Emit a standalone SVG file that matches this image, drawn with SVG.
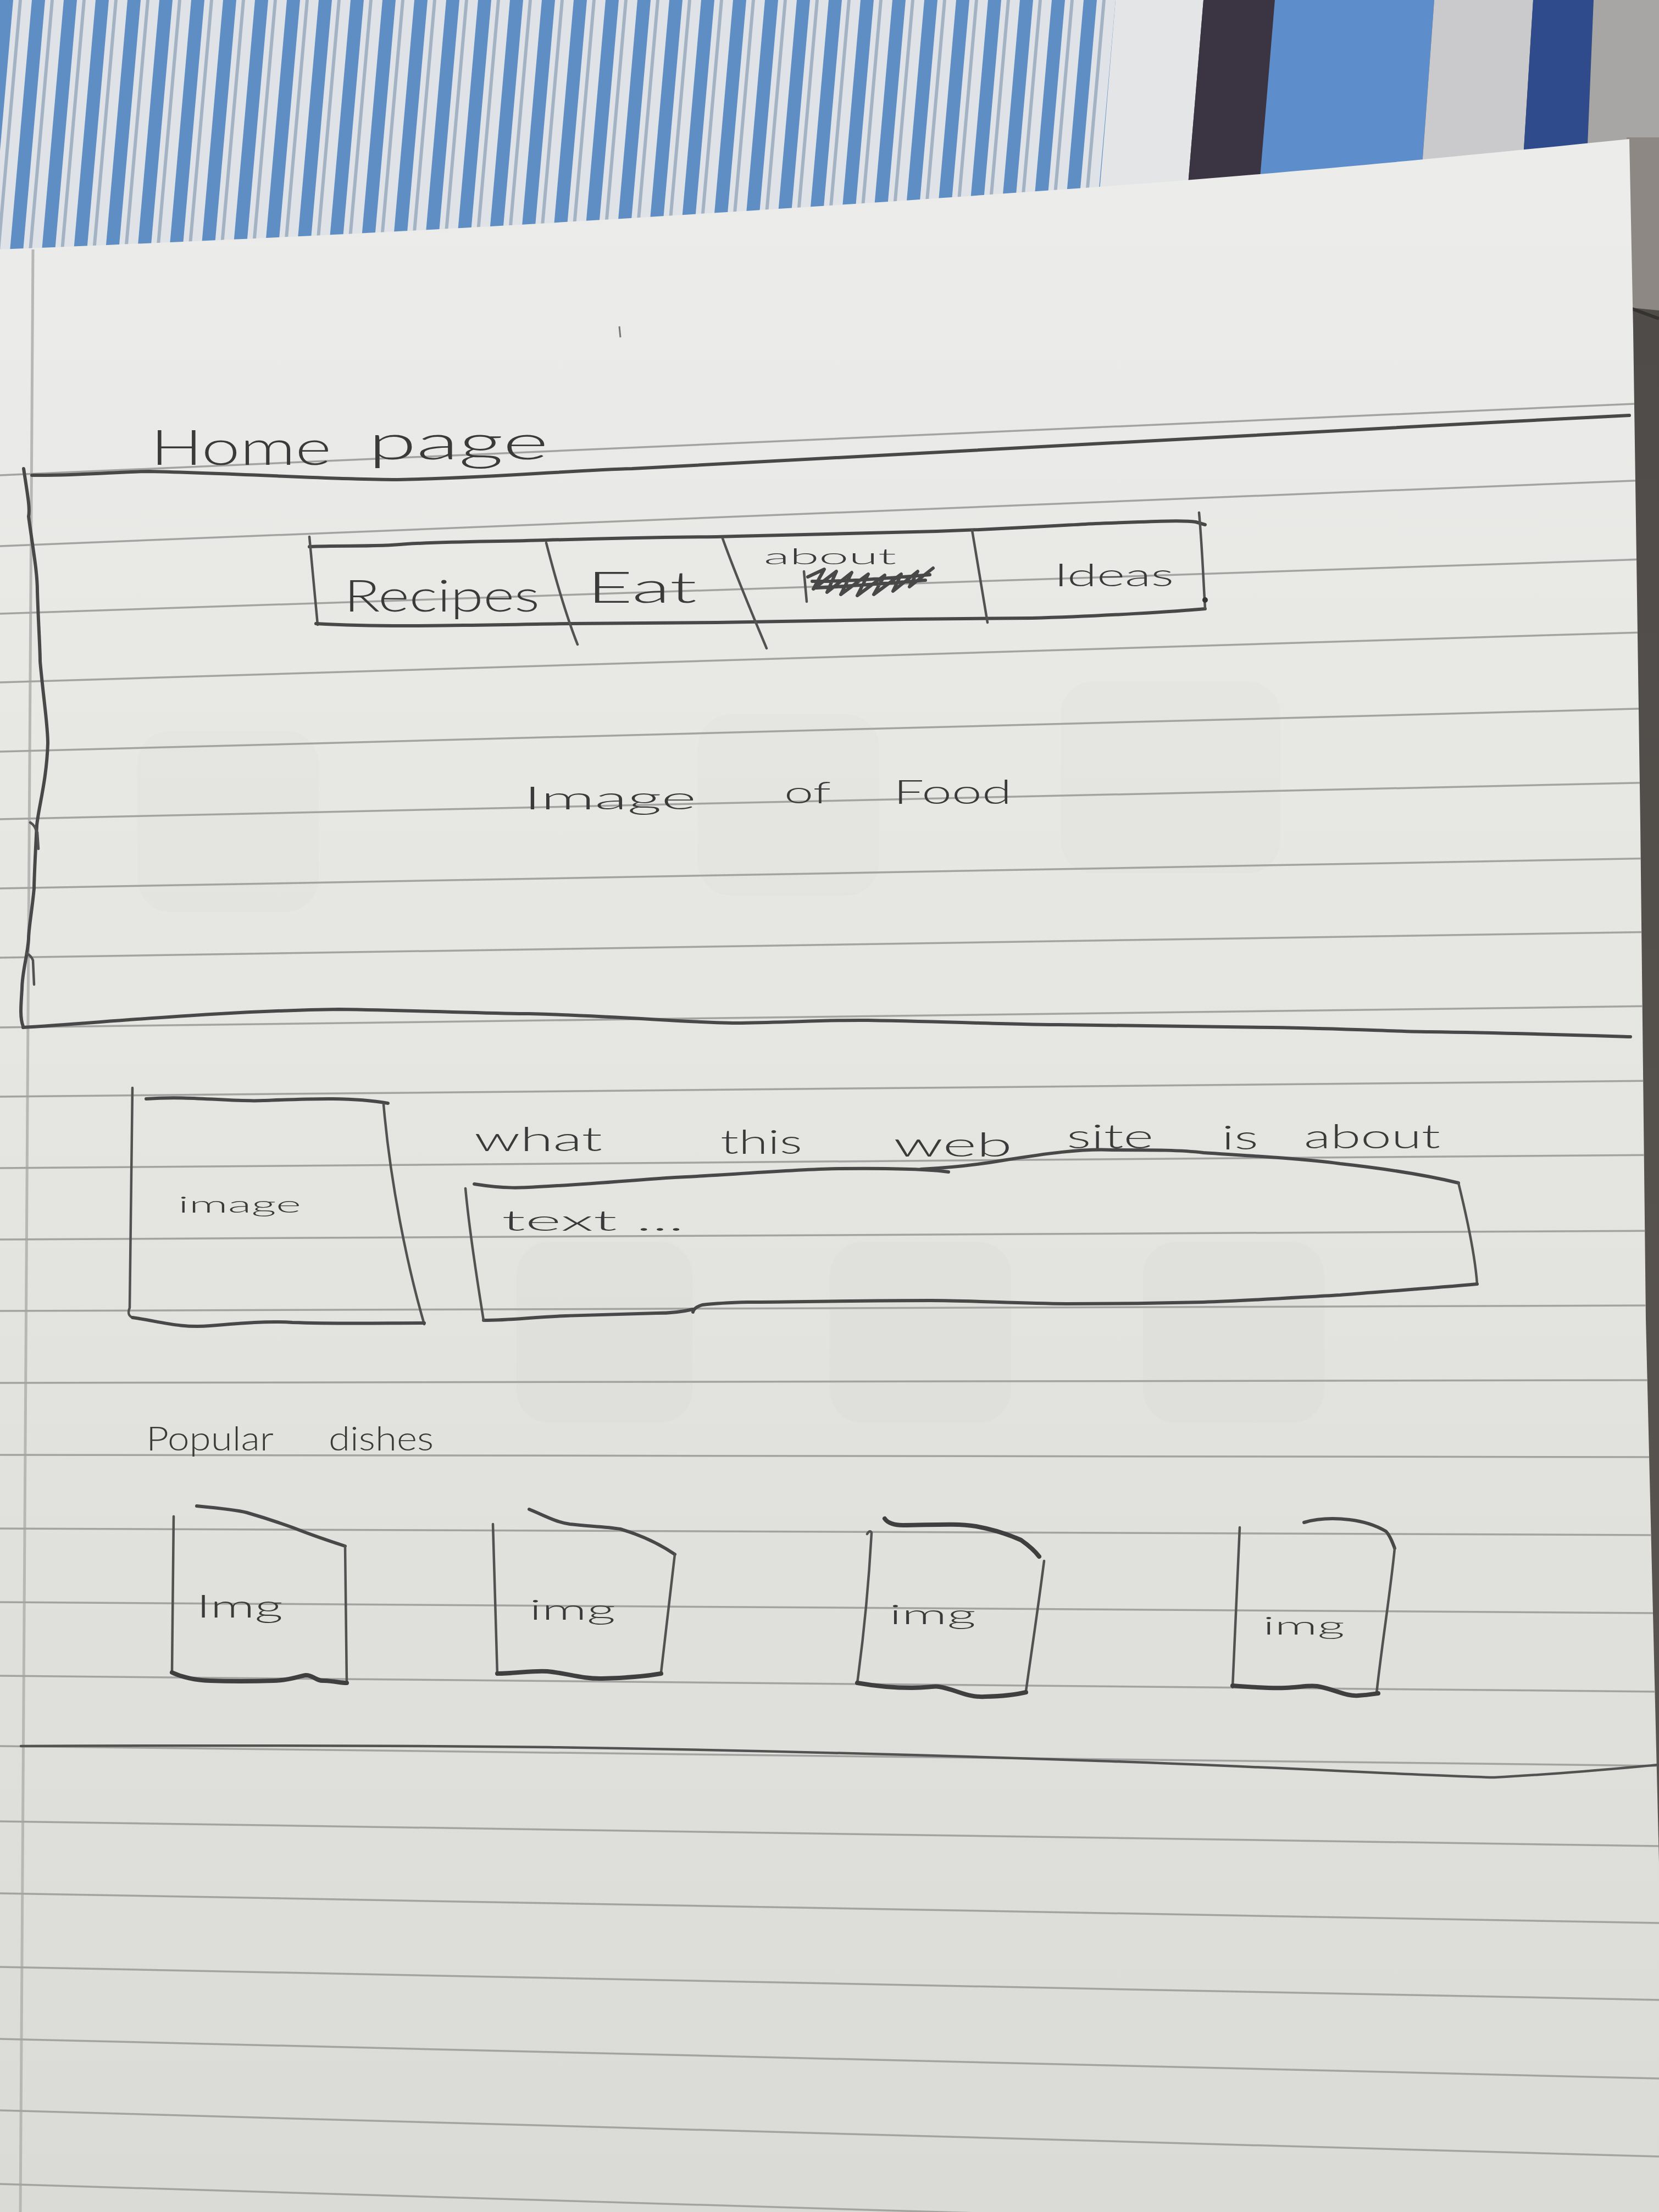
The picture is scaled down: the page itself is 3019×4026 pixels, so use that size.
<svg xmlns="http://www.w3.org/2000/svg" width="3019" height="4026" viewBox="0 0 3019 4026">
  <defs>
    <style>
      .pen { fill: none; stroke: #484848; stroke-width: 6; stroke-linecap: round; stroke-linejoin: round; }
      .pen-thin { fill: none; stroke: #525252; stroke-width: 4.5; stroke-linecap: round; stroke-linejoin: round; }
      .pen-bold { fill: none; stroke: #3f3f3f; stroke-width: 8; stroke-linecap: round; stroke-linejoin: round; }
      .rule { fill: none; stroke: #a3a3a1; stroke-width: 3.5; }
      .hand { font-family: "Lato", "Liberation Sans", "DejaVu Sans", sans-serif; font-weight: 300; fill: #3a3a3a; }
      .ghost { fill: #000; opacity: 0.012; }
    </style>
    <pattern id="fabric" patternUnits="userSpaceOnUse" width="58" height="500" patternTransform="skewX(-5)">
      <rect width="58" height="500" fill="#dfe2e6"/>
      <rect x="0" width="24" height="500" fill="#5f8ec5"/>
      <rect x="34" width="6" height="500" fill="#a4b3c4"/>
    </pattern>
    <linearGradient id="paperShade" x1="0" y1="0" x2="0" y2="1">
      <stop offset="0" stop-color="#ececea"/>
      <stop offset="0.45" stop-color="#e5e5e2"/>
      <stop offset="1" stop-color="#dadad6"/>
    </linearGradient>
    <linearGradient id="sideShade" x1="0" y1="0" x2="0" y2="1">
      <stop offset="0" stop-color="#4c4a48"/>
      <stop offset="1" stop-color="#5d5751"/>
    </linearGradient>
    <clipPath id="paperClip">
      <path d="M0,454 C400,438 700,423 963,408 C1400,382 1700,362 2041,337 C2400,310 2700,280 2965,253 L2972,600 L2985,1500 L2995,2400 L3019,3390 L3019,4026 L0,4026 Z"/>
    </clipPath>
  </defs>

  <!-- surroundings: striped fabric and the dark desk to the right -->
  <g id="background">
    <rect width="3019" height="4026" fill="url(#sideShade)"/>
    <rect x="0" y="0" width="2040" height="480" fill="url(#fabric)"/>
    <polygon points="2030,0 2190,0 2150,480 1990,480" fill="#e4e5e7"/>
    <polygon points="2190,0 2320,0 2280,480 2150,480" fill="#3b3443"/>
    <polygon points="2320,0 2610,0 2575,480 2280,480" fill="#5d8dcb"/>
    <polygon points="2610,0 2790,0 2760,480 2575,480" fill="#cacacc"/>
    <polygon points="2790,0 2900,0 2880,480 2760,480" fill="#2f4b8b"/>
    <polygon points="2900,0 3019,0 3019,480 2880,480" fill="#a8a6a4"/>
    <polygon points="2960,250 3019,250 3019,565 2968,560" fill="#8d8883"/>
    <line x1="2970" y1="562" x2="3019" y2="580" stroke="#35332f" stroke-width="6"/>
  </g>

  <!-- sheet of lined paper -->
  <g id="paper">
    <path d="M0,454 C400,438 700,423 963,408 C1400,382 1700,362 2041,337 C2400,310 2700,280 2965,253 L2972,600 L2985,1500 L2995,2400 L3019,3390 L3019,4026 L0,4026 Z" fill="url(#paperShade)"/>
    <g clip-path="url(#paperClip)">
      <!-- faint show-through from the other side of the sheet -->
      <rect class="ghost" x="250" y="1330" width="330" height="330" rx="60"/>
      <rect class="ghost" x="1270" y="1300" width="330" height="330" rx="60"/>
      <rect class="ghost" x="1930" y="1240" width="400" height="350" rx="60"/>
      <rect class="ghost" x="940" y="2260" width="320" height="330" rx="60"/>
      <rect class="ghost" x="1510" y="2260" width="330" height="330" rx="60"/>
      <rect class="ghost" x="2080" y="2260" width="330" height="330" rx="60"/>
      <line x1="60" y1="454" x2="37" y2="4026" stroke="#b7b7b5" stroke-width="5"/>
      <g id="rules">
        <line class="rule" x1="0" y1="865" x2="3019" y2="733"/>
        <line class="rule" x1="0" y1="994" x2="3019" y2="873"/>
        <line class="rule" x1="0" y1="1117" x2="3019" y2="1017"/>
        <line class="rule" x1="0" y1="1242" x2="3019" y2="1150"/>
        <line class="rule" x1="0" y1="1368" x2="3019" y2="1289"/>
        <line class="rule" x1="0" y1="1491" x2="3019" y2="1424"/>
        <line class="rule" x1="0" y1="1617" x2="3019" y2="1562"/>
        <line class="rule" x1="0" y1="1743" x2="3019" y2="1696"/>
        <line class="rule" x1="0" y1="1870" x2="3019" y2="1831"/>
        <line class="rule" x1="0" y1="1996" x2="3019" y2="1967"/>
        <line class="rule" x1="0" y1="2126" x2="3019" y2="2102"/>
        <line class="rule" x1="0" y1="2256" x2="3019" y2="2240"/>
        <line class="rule" x1="0" y1="2386" x2="3019" y2="2376"/>
        <line class="rule" x1="0" y1="2517" x2="3019" y2="2512"/>
        <line class="rule" x1="0" y1="2648" x2="3019" y2="2652"/>
        <line class="rule" x1="0" y1="2782" x2="3019" y2="2794"/>
        <line class="rule" x1="0" y1="2916" x2="3019" y2="2936"/>
        <line class="rule" x1="0" y1="3050" x2="3019" y2="3079"/>
        <line class="rule" x1="0" y1="3178" x2="3019" y2="3214"/>
        <line class="rule" x1="0" y1="3315" x2="3019" y2="3360"/>
        <line class="rule" x1="0" y1="3446" x2="3019" y2="3500"/>
        <line class="rule" x1="0" y1="3580" x2="3019" y2="3640"/>
        <line class="rule" x1="0" y1="3711" x2="3019" y2="3783"/>
        <line class="rule" x1="0" y1="3841" x2="3019" y2="3925"/>
        <line class="rule" x1="0" y1="3975" x2="3019" y2="4065"/>
      </g>
    </g>
    <line x1="1127" y1="594" x2="1129" y2="614" stroke="#777" stroke-width="3"/>
  </g>

  <!-- page title -->
  <g id="title">
    <text class="hand" x="274" y="846" font-size="88" textLength="329" lengthAdjust="spacingAndGlyphs">Home</text>
    <text class="hand" x="670" y="836" font-size="88" textLength="328" lengthAdjust="spacingAndGlyphs">page</text>
  </g>

  <!-- hero area: header frame with the nav bar and food image -->
  <g id="hero">
    <path class="pen" d="M58,865 C150,866 220,858 271,858 C450,862 600,873 724,873 C900,870 1050,855 1150,853 C1600,830 2300,790 2965,756"/>
    <path class="pen" d="M43,853 C50,900 55,925 52,940 C60,1000 68,1040 68,1077 C70,1140 73,1180 73,1204 C80,1280 87,1320 87,1353 C85,1420 70,1470 67,1502 C64,1560 62,1600 62,1617 C58,1660 52,1690 52,1709 C50,1740 40,1770 40,1800 C38,1830 36,1852 42,1868"/>
    <path class="pen-thin" d="M55,1497 C60,1500 64,1505 66,1512 M68,1515 L70,1545"/>
    <path class="pen-thin" d="M48,1735 C54,1738 58,1742 60,1748 L62,1792"/>
    <path class="pen" d="M42,1870 C200,1860 400,1840 617,1837 C800,1840 900,1845 963,1845 C1150,1850 1250,1862 1349,1862 C1450,1860 1520,1856 1580,1857 C1750,1860 1850,1865 1927,1865 C2100,1868 2250,1870 2312,1870 C2450,1872 2550,1878 2601,1878 C2750,1880 2870,1884 2967,1887"/>
  </g>

  <g id="nav">
    <path class="pen" d="M563,995 C620,992 680,996 740,990 C830,985 900,986 994,983 C1100,980 1200,978 1304,977 C1450,973 1600,970 1705,967 C1850,962 1950,955 1993,953 C2080,950 2150,946 2176,950 L2193,955"/>
    <path class="pen-thin" d="M563,977 L578,1137"/>
    <path class="pen" d="M575,1135 C700,1142 800,1138 844,1138 C950,1137 1000,1135 1040,1135 C1150,1134 1250,1133 1304,1133 C1450,1130 1550,1128 1648,1127 C1750,1126 1820,1126 1878,1125 C2000,1122 2150,1112 2193,1108"/>
    <path class="pen-thin" d="M2182,933 C2188,1000 2190,1060 2193,1107"/>
    <circle cx="2193" cy="1092" r="5" fill="#333"/>
    <path class="pen-thin" d="M994,988 C1010,1050 1030,1120 1051,1173"/>
    <path class="pen-thin" d="M1315,980 C1340,1050 1370,1120 1395,1180"/>
    <path class="pen-thin" d="M1769,965 C1780,1030 1790,1090 1797,1133"/>
    <text class="hand" x="626" y="1113" font-size="80" textLength="356" lengthAdjust="spacingAndGlyphs">Recipes</text>
    <text class="hand" x="1068" y="1097" font-size="78" textLength="200" lengthAdjust="spacingAndGlyphs">Eat</text>
    <text class="hand" x="1390" y="1027" font-size="40" textLength="241" lengthAdjust="spacingAndGlyphs">about</text>
    <!-- crossed-out word -->
    <path class="pen-thin" d="M1463,1040 L1468,1095"/>
    <path class="pen" stroke="#2f2f2f" d="M1470,1050 L1500,1036 L1480,1072 L1522,1040 L1505,1078 L1550,1042 L1530,1082 L1580,1045 L1560,1084 L1610,1047 L1590,1082 L1640,1045 L1625,1076 L1670,1040 L1655,1068 L1698,1034 M1478,1058 C1550,1058 1620,1052 1692,1046 M1486,1070 C1560,1066 1620,1061 1684,1056"/>
    <text class="hand" x="1918" y="1067" font-size="58" textLength="218" lengthAdjust="spacingAndGlyphs">Ideas</text>
  </g>

  <g id="hero-label">
    <text class="hand" x="953" y="1473" font-size="58" textLength="314" lengthAdjust="spacingAndGlyphs">Image</text>
    <text class="hand" x="1427" y="1462" font-size="55" textLength="85" lengthAdjust="spacingAndGlyphs">of</text>
    <text class="hand" x="1626" y="1463" font-size="62" textLength="215" lengthAdjust="spacingAndGlyphs">Food</text>
  </g>

  <!-- about section -->
  <g id="intro-image">
    <path class="pen" d="M266,2000 C350,1994 420,2006 480,2003 C560,2000 640,1996 706,2008"/>
    <path class="pen-thin" d="M241,1980 C238,2150 236,2300 236,2380 C232,2390 234,2395 241,2398"/>
    <path class="pen-thin" d="M698,2010 C710,2150 740,2300 772,2410"/>
    <path class="pen" d="M241,2398 C290,2405 330,2418 382,2413 C440,2408 490,2404 532,2407 C620,2410 700,2408 772,2408"/>
    <text class="hand" x="324" y="2207" font-size="42" textLength="224" lengthAdjust="spacingAndGlyphs">image</text>
  </g>

  <g id="intro-text">
    <text class="hand" x="863" y="2095" font-size="62" textLength="233" lengthAdjust="spacingAndGlyphs">what</text>
    <text class="hand" x="1311" y="2100" font-size="62" textLength="149" lengthAdjust="spacingAndGlyphs">this</text>
    <text class="hand" x="1626" y="2105" font-size="62" textLength="216" lengthAdjust="spacingAndGlyphs">web</text>
    <text class="hand" x="1941" y="2090" font-size="62" textLength="158" lengthAdjust="spacingAndGlyphs">site</text>
    <text class="hand" x="2223" y="2092" font-size="62" textLength="67" lengthAdjust="spacingAndGlyphs">is</text>
    <text class="hand" x="2373" y="2090" font-size="62" textLength="248" lengthAdjust="spacingAndGlyphs">about</text>
    <path class="pen" d="M863,2155 C920,2164 950,2162 979,2160 C1080,2155 1150,2148 1228,2143 C1350,2137 1450,2128 1527,2127 C1620,2126 1690,2128 1726,2133"/>
    <path class="pen" d="M1676,2128 C1740,2125 1790,2118 1825,2112 C1900,2100 1970,2090 2024,2093 C2100,2093 2150,2093 2190,2098 C2300,2105 2380,2110 2439,2118 C2530,2128 2600,2140 2654,2153"/>
    <path class="pen-thin" d="M2654,2153 C2668,2210 2684,2280 2688,2337"/>
    <path class="pen" d="M2688,2337 C2600,2345 2500,2352 2439,2357 C2350,2362 2260,2368 2190,2370 C2100,2372 2000,2373 1941,2373 C1850,2372 1760,2367 1693,2367 C1550,2367 1450,2370 1361,2370 C1320,2371 1295,2373 1278,2375 C1268,2378 1262,2382 1261,2388"/>
    <path class="pen" d="M1261,2383 C1240,2388 1220,2390 1195,2390 C1130,2392 1080,2393 1029,2395 C970,2397 930,2403 880,2403"/>
    <path class="pen-thin" d="M847,2163 C855,2250 870,2340 880,2403"/>
    <text class="hand" x="913" y="2240" font-size="52" textLength="332" lengthAdjust="spacingAndGlyphs">text ...</text>
  </g>

  <!-- popular dishes row -->
  <g id="popular">
    <text class="hand" x="266" y="2640" font-size="62" textLength="232" lengthAdjust="spacingAndGlyphs">Popular</text>
    <text class="hand" x="598" y="2640" font-size="62" textLength="191" lengthAdjust="spacingAndGlyphs">dishes</text>
  </g>

  <g id="dish-1">
    <path class="pen" d="M358,2741 C400,2745 430,2748 449,2753 C480,2762 510,2772 532,2780 C570,2795 600,2805 628,2814"/>
    <path class="pen-thin" d="M316,2760 C315,2850 314,2950 313,3044"/>
    <path class="pen-thin" d="M628,2814 C629,2900 630,2980 631,3063"/>
    <path class="pen-bold" d="M313,3044 C330,3052 355,3058 382,3059 C430,3061 470,3060 498,3059 C530,3058 545,3050 557,3049 C570,3049 575,3060 590,3059 C610,3060 620,3063 631,3063"/>
    <text class="hand" x="357" y="2944" font-size="58" textLength="158" lengthAdjust="spacingAndGlyphs">Img</text>
  </g>

  <g id="dish-2">
    <path class="pen" d="M963,2747 C990,2758 1010,2770 1037,2774 C1070,2778 1100,2778 1129,2783 C1170,2795 1200,2810 1228,2829"/>
    <path class="pen-thin" d="M897,2774 L905,3048"/>
    <path class="pen-thin" d="M1228,2829 C1220,2900 1210,2980 1203,3044"/>
    <path class="pen-bold" d="M905,3046 C940,3046 970,3040 996,3042 C1030,3045 1060,3056 1096,3055 C1140,3054 1180,3050 1203,3046"/>
    <text class="hand" x="963" y="2948" font-size="52" textLength="157" lengthAdjust="spacingAndGlyphs">img</text>
  </g>

  <g id="dish-3">
    <path class="pen-bold" d="M1610,2764 C1615,2772 1628,2776 1643,2776 C1690,2776 1740,2772 1776,2778 C1815,2785 1840,2795 1858,2803 C1875,2815 1885,2825 1891,2833"/>
    <path class="pen-thin" d="M1578,2792 C1582,2785 1585,2787 1586,2790 C1580,2900 1570,2990 1560,3063"/>
    <path class="pen-thin" d="M1900,2841 C1890,2920 1878,3000 1867,3078"/>
    <path class="pen-bold" d="M1560,3063 C1600,3070 1630,3072 1659,3072 C1690,3072 1700,3068 1709,3070 C1740,3075 1760,3090 1792,3088 C1830,3087 1855,3083 1867,3080"/>
    <text class="hand" x="1618" y="2956" font-size="50" textLength="158" lengthAdjust="spacingAndGlyphs">img</text>
  </g>

  <g id="dish-4">
    <path class="pen" d="M2373,2771 C2400,2763 2430,2763 2456,2766 C2490,2770 2510,2780 2522,2787 C2530,2795 2535,2810 2538,2818"/>
    <path class="pen-thin" d="M2256,2780 L2243,3071"/>
    <path class="pen-thin" d="M2538,2818 C2530,2900 2515,2990 2505,3082"/>
    <path class="pen-bold" d="M2243,3068 C2280,3071 2310,3073 2339,3072 C2365,3071 2380,3067 2397,3069 C2430,3075 2450,3088 2472,3086 C2490,3085 2500,3083 2508,3082"/>
    <text class="hand" x="2298" y="2975" font-size="46" textLength="149" lengthAdjust="spacingAndGlyphs">img</text>
  </g>

  <!-- end of page -->
  <g id="footer-line">
    <path class="pen-thin" stroke="#3a3a3a" d="M38,3178 C300,3177 700,3176 1000,3180 C1400,3186 1800,3198 2000,3205 C2300,3215 2550,3230 2719,3235 C2850,3228 2950,3218 3019,3212"/>
  </g>
</svg>
